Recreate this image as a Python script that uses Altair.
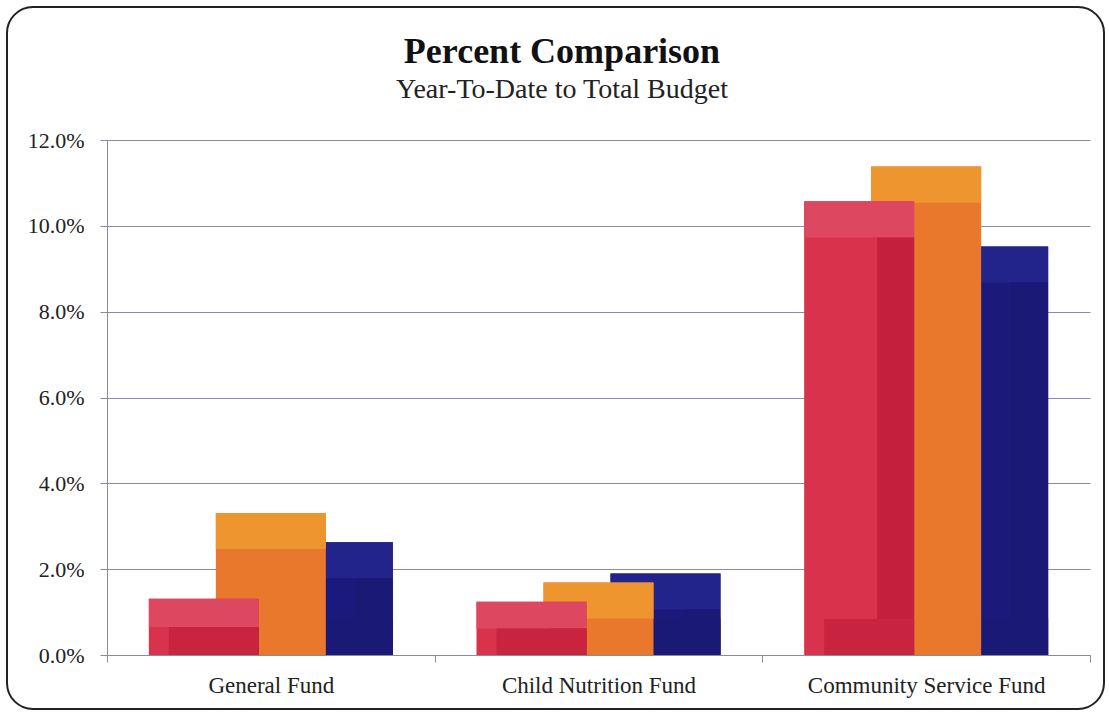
import altair as alt
import pandas as pd

funds = ["General Fund", "Child Nutrition Fund", "Community Service Fund"]
series_names = ["Series 1", "Series 2", "Series 3"]
red_vals = [0.0131, 0.0124, 0.1057]
orange_vals = [0.0331, 0.0169, 0.1138]
navy_vals = [0.0263, 0.0190, 0.0952]
title_text = "Percent Comparison"
subtitle_text = "Year-To-Date to Total Budget"

# per-series styling: base, top bevel, right bevel, bottom bevel, x offset
styles = {
    "Series 1": dict(base="#d8324d", cap="#dd4760", right="#c41f3c", bottom="#c8243f", off=-67),
    "Series 2": dict(base="#e9782c", cap="#ef9530", right="#e9782c", bottom="#e9782c", off=0),
    "Series 3": dict(base="#1b1a7c", cap="#23238c", right="#1a1976", bottom="#1a1976", off=67),
}

rows = []
for name, vals in zip(series_names, [red_vals, orange_vals, navy_vals]):
    for f, v in zip(funds, vals):
        rows.append({"fund": f, "series": name, "value": v})
df = pd.DataFrame(rows)

FONT = "Liberation Serif"
BAR_W = 110
BEV = 0.0084

xenc = alt.X(
    "fund:N",
    sort=funds,
    scale=alt.Scale(paddingInner=0, paddingOuter=0),
    axis=alt.Axis(
        title=None, labelAngle=0, labelFont=FONT, labelFontSize=23, labelColor="#222",
        tickBand="extent", tickSize=7, tickColor="#8a8a99", domainColor="#8a8a99",
        labelPadding=12, grid=False, labelLimit=400,
    ),
)
yscale = alt.Scale(domain=[0, 0.12], nice=False)
yaxis = alt.Axis(
    title=None, format=".1%", values=[0, 0.02, 0.04, 0.06, 0.08, 0.10, 0.12],
    labelFont=FONT, labelFontSize=22, labelColor="#222", labelPadding=16,
    tickSize=7, tickColor="#8a8a99", domainColor="#8a8a99",
    grid=True, gridColor="#8a8ab0", gridWidth=1,
)

base = alt.Chart(df)
layers = []
for name in ["Series 3", "Series 2", "Series 1"]:
    s = styles[name]
    src = base.transform_filter(alt.datum.series == name).transform_calculate(
        cap_lo="max(datum.value - %f, datum.value / 2)" % BEV,
        bot_hi="min(%f, datum.value / 2)" % BEV,
        zero="0",
    )
    layers.append(
        src.mark_bar(width=BAR_W, xOffset=s["off"], color=s["base"]).encode(
            x=xenc, y=alt.Y("value:Q", scale=yscale, axis=yaxis)
        )
    )
    layers.append(
        src.mark_bar(width=BAR_W, xOffset=s["off"], color=s["cap"]).encode(
            x=xenc, y=alt.Y("value:Q", scale=yscale, axis=yaxis), y2="cap_lo:Q"
        )
    )
    if s["right"] != s["base"]:
        layers.append(
            src.mark_bar(width=37, xOffset=s["off"] + BAR_W / 2 - 18.5, color=s["right"]).encode(
                x=xenc, y=alt.Y("cap_lo:Q", scale=yscale, axis=yaxis), y2="zero:Q"
            )
        )
    if s["bottom"] != s["base"]:
        layers.append(
            src.mark_bar(width=BAR_W - 20, xOffset=s["off"] + 10, color=s["bottom"]).encode(
                x=xenc, y=alt.Y("bot_hi:Q", scale=yscale, axis=yaxis), y2="zero:Q"
            )
        )

frame = alt.Chart(pd.DataFrame({"f": [0]})).mark_rect(
    filled=False, stroke="#222", strokeWidth=2, cornerRadius=26
).encode(
    x=alt.value(-100), x2=alt.value(997), y=alt.value(-133), y2=alt.value(569)
)

titles = alt.Chart(pd.DataFrame({"t": [title_text]})).mark_text(
    font=FONT, fontSize=36, fontWeight="bold", color="#111", align="center", baseline="alphabetic"
).encode(text="t:N", x=alt.value(455), y=alt.value(-77))

subtitles = alt.Chart(pd.DataFrame({"t": [subtitle_text]})).mark_text(
    font=FONT, fontSize=28, color="#222", align="center", baseline="alphabetic"
).encode(text="t:N", x=alt.value(455), y=alt.value(-42))

chart = alt.layer(*layers, frame, titles, subtitles).properties(
    width=983,
    height=515,
    autosize=alt.AutoSizeParams(type="none"),
    padding={"left": 107, "top": 140, "right": 19, "bottom": 58},
    background="white",
).configure_view(stroke=None)

chart.save("out.html", embed_options={"renderer": "svg", "actions": False})
